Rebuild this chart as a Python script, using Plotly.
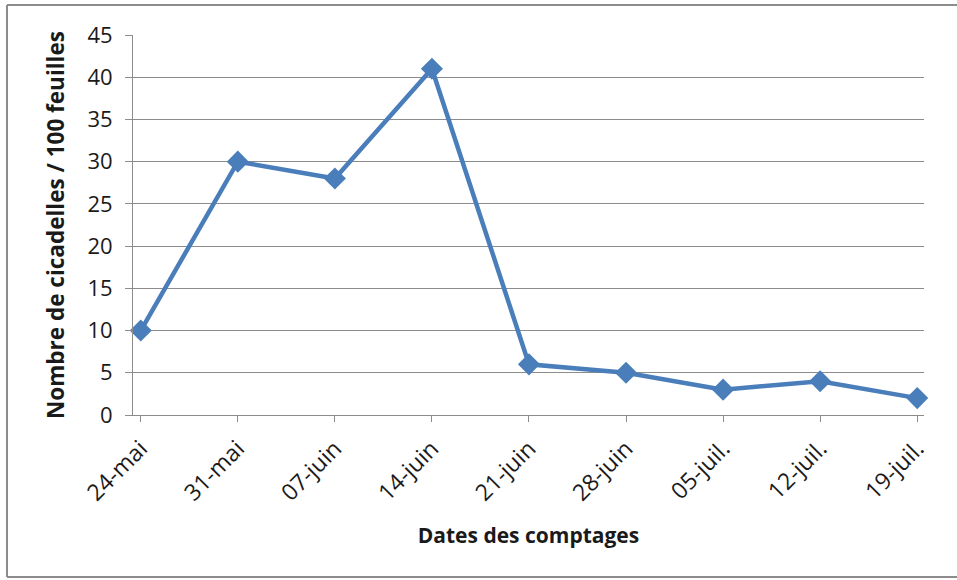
import plotly.graph_objects as go

dates = ["24-mai", "31-mai", "07-juin", "14-juin", "21-juin", "28-juin", "05-juil.", "12-juil.", "19-juil."]
counts = [10, 30, 28, 41, 6, 5, 3, 4, 2]
y_ticks = [0, 5, 10, 15, 20, 25, 30, 35, 40, 45]

W, H = 957, 580
L, R, T, B = 133, 33, 35, 165

fig = go.Figure()
fig.add_trace(go.Scatter(
    x=list(range(len(dates))), y=counts, mode="lines+markers",
    line=dict(color="#4A7EBB", width=4.5),
    marker=dict(symbol="diamond", size=17, color="#4A7EBB"),
    showlegend=False, cliponaxis=False,
))

pw = W - L - R
ph = H - T - B
bx0 = (7 - L) / pw
bx1 = (W + 30 - L) / pw
by0 = -(577 - T - ph) / ph
by1 = 1 + (T - 5) / ph
border = dict(color="#8c8c8c", width=2)
for x0, y0, x1, y1 in [(bx0, by0, bx0, by1), (bx0, by1, bx1, by1), (bx0, by0, bx1, by0)]:
    fig.add_shape(type="line", xref="paper", yref="paper",
                  x0=x0, y0=y0, x1=x1, y1=y1, line=border, layer="below")

fig.update_layout(
    width=W, height=H, margin=dict(l=L, r=R, t=T, b=B, autoexpand=False),
    paper_bgcolor="white", plot_bgcolor="white",
    font=dict(family="Open Sans", color="#1a1a1a", size=20),
    xaxis=dict(
        tickmode="array", tickvals=list(range(len(dates))), ticktext=dates,
        range=[-0.08, 8.07], tickangle=-45,
        showgrid=False, zeroline=False,
        showline=True, linecolor="#8c8c8c", linewidth=1,
        ticks="outside", ticklen=6, tickcolor="#8c8c8c",
        tickfont=dict(size=23), ticklabelstandoff=4,
        title=dict(text="<b>Dates des comptages</b>", font=dict(size=21), standoff=22),
        automargin=False,
    ),
    yaxis=dict(
        tickmode="array", tickvals=y_ticks, range=[0, 45],
        showgrid=True, gridcolor="#8c8c8c", gridwidth=1,
        zeroline=False, showline=True, linecolor="#8c8c8c", linewidth=1,
        ticks="outside", ticklen=7, tickcolor="#8c8c8c",
        tickfont=dict(size=22), ticklabelstandoff=8,
        title=dict(text="<b>Nombre de cicadelles / 100 feuilles</b>", font=dict(size=22.5), standoff=16),
        automargin=False,
    ),
)

fig.write_html("out.html", config={"displayModeBar": False},
               post_script="document.body.style.margin='0';document.body.style.overflow='hidden';")
